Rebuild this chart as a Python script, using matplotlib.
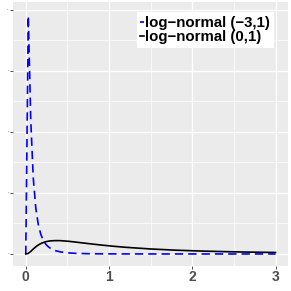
import matplotlib
matplotlib.use("Agg")
import matplotlib.pyplot as plt

# grid of x values and density values
x = [0, 0.03, 0.06, 0.09, 0.12, 0.15, 0.18, 0.21, 0.24, 0.27, 0.30, 0.36,
     0.42, 0.51, 0.60, 0.75, 0.90, 1.05, 1.2, 1.5, 1.8, 2.1, 2.4, 2.7, 3.0]
ln_m3 = [0, 11.7, 6.53, 3.72, 2.26, 1.45, 0.97, 0.675, 0.482, 0.354, 0.265, 0.157,
         0.098, 0.052, 0.030, 0.0135, 0.0067, 0.0035, 0.002, 0.0007, 0.0003, 0.0001, 0.0, 0.0, 0.0]
ln_0 = [0, 0.0285, 0.127, 0.244, 0.351, 0.440, 0.509, 0.562, 0.601, 0.627, 0.644, 0.657,
        0.652, 0.624, 0.584, 0.510, 0.441, 0.380, 0.327, 0.245, 0.186, 0.144, 0.113, 0.090, 0.0727]

x_ticks = [0, 1, 2, 3]
y_ticks = [0, 3, 6, 9, 12]

plt.rcParams['font.family'] = ['Liberation Sans', 'DejaVu Sans']

fig = plt.figure(figsize=(2.91, 2.91), dpi=100)
ax = fig.add_axes([0.0457, 0.086, 0.944, 0.906])
ax.set_facecolor('#EBEBEB')

ax.plot(x, ln_m3, color='blue', lw=1.2, ls=(0, (5, 3)), label='log\u2212normal (\u22123,1)')
ax.plot(x, ln_0, color='black', lw=1.2, label='log\u2212normal (0,1)')

ax.set_xlim(-0.15, 3.15)
ax.set_ylim(-0.59, 12.36)
ax.set_xticks(x_ticks)
ax.set_xticklabels([str(t) for t in x_ticks], fontsize=10, color='#4D4D4D', fontweight='bold')
ax.set_yticks(y_ticks)
ax.set_yticklabels([str(t) for t in y_ticks], fontsize=1.5, color='#4D4D4D')
ax.set_xticks([0.5, 1.5, 2.5], minor=True)
ax.set_yticks([1.5, 4.5, 7.5, 10.5], minor=True)
ax.grid(True, which='major', color='white', lw=1.0)
ax.grid(True, which='minor', color='white', lw=0.5)
ax.set_axisbelow(True)
ax.tick_params(which='major', length=2, width=0.6, color='#333333', pad=1)
ax.tick_params(which='minor', length=0)
for s in ax.spines.values():
    s.set_visible(False)

leg = ax.legend(loc='upper right', bbox_to_anchor=(0.949, 0.962),
                prop={'weight': 'bold', 'size': 10.8}, handlelength=0.27, handletextpad=0.07,
                labelspacing=0.0, borderpad=0.25, borderaxespad=0, frameon=True, fancybox=False)
leg.get_frame().set_facecolor('white')
leg.get_frame().set_edgecolor('none')
leg.get_frame().set_alpha(1)

fig.savefig('out.png', dpi=100)
